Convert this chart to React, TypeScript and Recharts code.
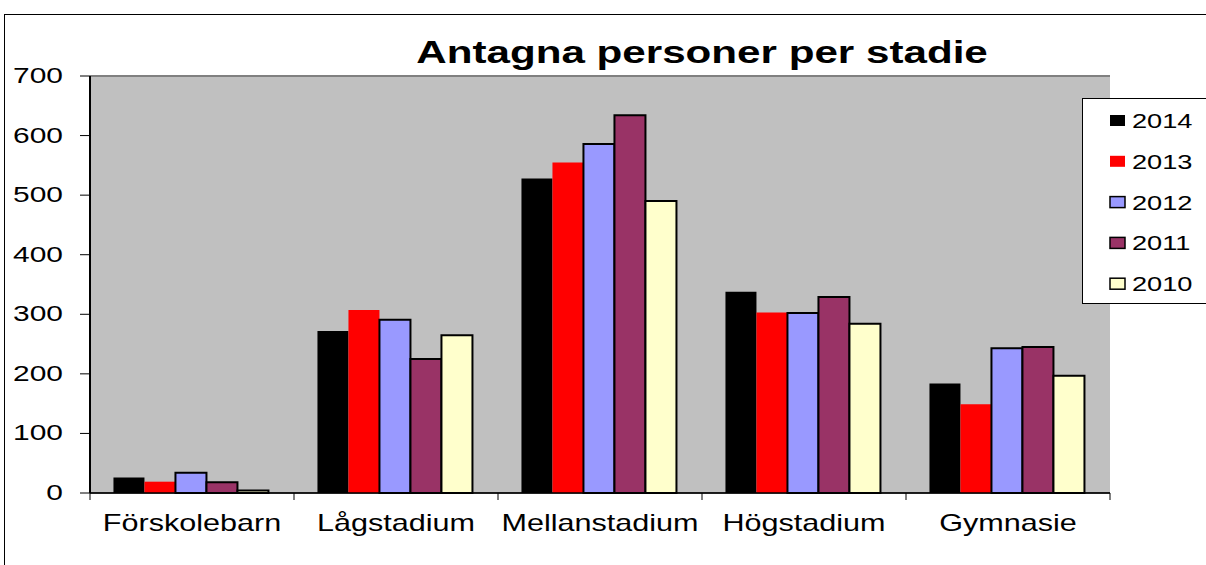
import React from "react"
import { Bar, BarChart, CartesianGrid, ReferenceLine, XAxis, YAxis } from "recharts"

const categories = ["Förskolebarn", "Lågstadium", "Mellanstadium", "Högstadium", "Gymnasie"]
const years = ["2014", "2013", "2012", "2011", "2010"]
const values2014 = [26, 272, 528, 338, 184]
const values2013 = [19, 307, 555, 303, 149]
const values2012 = [34, 291, 586, 302, 243]
const values2011 = [18, 225, 634, 329, 245]
const values2010 = [4, 265, 490, 284, 197]
const yTicks = [0, 100, 200, 300, 400, 500, 600, 700]

const seriesValues = [values2014, values2013, values2012, values2011, values2010]
const colors = ["#000000", "#FF0000", "#9999FF", "#993366", "#FFFFCC"]
const outlined = [false, false, true, true, true]

const data = categories.map((name, i) => {
  const row: any = { name }
  years.forEach((y, s) => {
    row[y] = seriesValues[s][i]
  })
  return row
})

const FONT = "'Liberation Sans', Arial, sans-serif"
const STRETCH = 1.36

function YTick(props: any) {
  const { x, y, payload } = props
  return (
    <text
      transform={`translate(${x},${y + 7}) scale(${STRETCH},1)`}
      textAnchor="end"
      fontFamily={FONT}
      fontSize={22}
      fill="#000"
    >
      {payload.value}
    </text>
  )
}

function XTick(props: any) {
  const { x, y, payload, index } = props
  const half = payload.offset > 0 ? payload.offset : 102
  return (
    <g>
      <line x1={x - half} x2={x - half} y1={y} y2={y + 7} stroke="#000" strokeWidth={1} />
      {index === categories.length - 1 && (
        <line x1={x + half} x2={x + half} y1={y} y2={y + 7} stroke="#000" strokeWidth={1} />
      )}
      <text
        transform={`translate(${x},${y + 38}) scale(1.33,1)`}
        textAnchor="middle"
        fontFamily={FONT}
        fontSize={23}
        fill="#000"
      >
        {payload.value}
      </text>
    </g>
  )
}

export default function App() {
  return (
    <div style={{ position: "absolute", left: 0, top: 0, width: 1206, height: 565, background: "#fff" }}>
      <BarChart
        width={1206}
        height={565}
        data={data}
        margin={{ top: 76, right: 96, bottom: 42, left: 0 }}
        barCategoryGap="11.5%"
        barGap={0}
      >
        <CartesianGrid vertical={false} fill="#C0C0C0" stroke="#000" strokeWidth={1} />
        <XAxis
          dataKey="name"
          height={30}
          tick={<XTick />}
          tickLine={false}
          tickSize={0}
          tickMargin={0}
          axisLine={{ stroke: "#000", strokeWidth: 1.5 }}
          interval={0}
        />
        <YAxis
          yAxisId="left"
          width={90}
          domain={[0, 700]}
          ticks={yTicks}
          tick={<YTick />}
          tickSize={10}
          tickMargin={17}
          tickLine={{ stroke: "#000" }}
          axisLine={{ stroke: "#000", strokeWidth: 2 }}
          interval={0}
        />
        <YAxis
          yAxisId="right"
          orientation="right"
          width={0}
          domain={[0, 700]}
          tick={false}
          tickLine={false}
          axisLine={{ stroke: "#808080", strokeWidth: 2 }}
        />
        <ReferenceLine yAxisId="left" y={700} stroke="#808080" strokeWidth={2} />
        {years.map((y, s) => (
          <Bar
            key={y}
            yAxisId="left"
            dataKey={y}
            fill={colors[s]}
            stroke={outlined[s] ? "#000" : "none"}
            strokeWidth={2}
            isAnimationActive={false}
          />
        ))}
      </BarChart>
      <svg
        width={1206}
        height={565}
        style={{ position: "absolute", left: 0, top: 0, pointerEvents: "none" }}
      >
        <line x1={4} y1={14.5} x2={1206} y2={14.5} stroke="#000" strokeWidth={1} />
        <line x1={4.5} y1={14} x2={4.5} y2={565} stroke="#000" strokeWidth={1} />
        <text
          transform={`translate(702,63) scale(${STRETCH},1)`}
          textAnchor="middle"
          fontFamily={FONT}
          fontWeight="bold"
          fontSize={31}
          fill="#000"
        >
          Antagna personer per stadie
        </text>
        <rect x={1082.5} y={98.5} width={130} height={205} fill="#fff" stroke="#000" strokeWidth={1} />
        {years.map((y, s) => (
          <g key={y}>
            <rect
              x={1110}
              y={115 + s * 40.8}
              width={15}
              height={11}
              fill={colors[s]}
              stroke={outlined[s] ? "#000" : "none"}
              strokeWidth={1.5}
            />
            <text
              transform={`translate(1132,${128 + s * 40.8}) scale(${STRETCH},1)`}
              fontFamily={FONT}
              fontSize={20}
              fill="#000"
            >
              {y}
            </text>
          </g>
        ))}
      </svg>
    </div>
  )
}
